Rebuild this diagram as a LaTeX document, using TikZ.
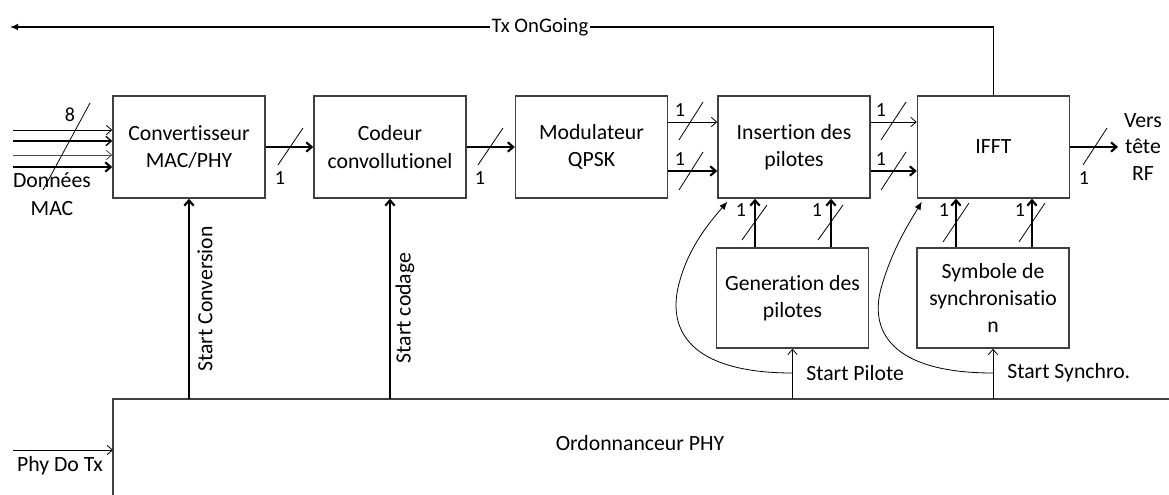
\documentclass[tikz,border=0pt]{standalone}
\usepackage{fontspec}
\setmainfont{Carlito}[Ligatures=NoCommon]
\usetikzlibrary{arrows.meta,calc}
\begin{document}
\begin{tikzpicture}[x=0.75pt,y=-0.75pt,
 box/.style={draw=black!75,line width=1.1pt,minimum width=114pt,minimum height=76.5pt,align=center,font=\fontsize{16.3}{20.5}\selectfont,inner sep=0pt},
 thk/.style={line width=1.6pt,-{Straight Barb[length=4pt,width=7pt]}},
 thn/.style={line width=0.6pt,-{Straight Barb[length=4pt,width=7pt]}},
 lab/.style={font=\fontsize{16.3}{20.5}\selectfont,inner sep=0pt},
 one/.style={font=\fontsize{15}{16}\selectfont,inner sep=0pt},
 sl/.style={line width=0.6pt},
 crv/.style={line width=0.6pt,-{Latex[length=6pt,width=5pt]}}]
\useasboundingbox (0,0) rectangle (1169,495);
% boxes
\node[box] (conv) at (189,147) {Convertisseur\\MAC/PHY};
\node[box] (cod) at (390,147) {Codeur\\convollutionel};
\node[box] (mod) at (591.5,147) {Modulateur\\QPSK};
\node[box] (ins) at (794,147) {Insertion des\\pilotes};
\node[box] (ifft) at (993.5,147) {IFFT};
\node[box,minimum height=75pt] (gen) at (792.5,298) {Generation des\\pilotes};
\node[box,minimum height=75pt] (sym) at (993,298) {Symbole de\\synchronisatio\\n};
% ordonnanceur
\coordinate (ordTL) at (113,399);
\coordinate (ordTR) at (1169,399);
\coordinate (ordBL) at (113,495);
\draw[line width=1.1pt,draw=black!75] (ordTR) -- (ordTL) -- (ordBL);
\node[lab] (ord) at (640,443) {Ordonnanceur PHY};
% Tx OnGoing
\coordinate (txend) at (10,27);
\draw[line width=0.9pt,-{Latex[length=6pt,width=5pt]}] (ifft.north) -- (ifft.north |- txend) -- (txend);
\node[fill=white,inner sep=1pt,font=\fontsize{15.5}{17}\selectfont] (tx) at (540,27) {Tx OnGoing};
% data inputs
\coordinate (d1) at (13,130);
\coordinate (d2) at (13,141);
\coordinate (d3) at (13,155);
\coordinate (d4) at (13,167);
\draw[thn] (d1) -- (d1 -| conv.west);
\draw[thk,line width=1pt] (d2) -- (d2 -| conv.west);
\draw[thn,draw=black!70] (d3) -- (d3 -| conv.west);
\draw[thk] (d4) -- (d4 -| conv.west);
\draw[sl] (90,103) -- (43,190);
\node[one] (n8) at (70,115) {8};
\node[lab,align=center] (don) at (52,194) {Données\\MAC};
% chain
\draw[thk] (conv.east) -- (cod.west);
\draw[sl] (303,128) -- (278,165);
\node[one] (o1) at (280,178) {1};
\draw[thk] (cod.east) -- (mod.west);
\draw[sl] (503,128) -- (478,165);
\node[one] (o2) at (480,178) {1};
\coordinate (m1) at (mod.east |- 0,122);
\coordinate (m2) at (mod.east |- 0,171);
\draw[thn] (m1) -- (m1 -| ins.west);
\draw[thk] (m2) -- (m2 -| ins.west);
\draw[sl] (703,102) -- (679,140);
\draw[sl] (703,152) -- (679,190);
\node[one] (o3) at (680,110) {1};
\node[one] (o4) at (680,159) {1};
\coordinate (i1) at (ins.east |- 0,122);
\coordinate (i2) at (ins.east |- 0,171);
\draw[thn] (i1) -- (i1 -| ifft.west);
\draw[thk] (i2) -- (i2 -| ifft.west);
\draw[sl] (906,102) -- (881,140);
\draw[sl] (906,152) -- (881,190);
\node[one] (o5) at (881,110) {1};
\node[one] (o6) at (881,159) {1};
\coordinate (rf) at (1118,147);
\draw[thk] (ifft.east) -- (rf);
\draw[sl] (1107,128) -- (1083,165);
\node[one] (o7) at (1084,178) {1};
\node[lab,align=center,font=\fontsize{16.3}{20}\selectfont] (vers) at (1143,147) {Vers\\tête\\RF};
% verticals gen -> ins, sym -> ifft
\coordinate (g1) at ($(gen.north)+(-37.5,0)$);
\coordinate (g2) at ($(gen.north)+(38.5,0)$);
\coordinate (s1) at ($(sym.north)+(-37,0)$);
\coordinate (s2) at ($(sym.north)+(39,0)$);
\draw[thk] (g1) -- (g1 |- ins.south);
\draw[thk] (g2) -- (g2 |- ins.south);
\draw[thk] (s1) -- (s1 |- ifft.south);
\draw[thk] (s2) -- (s2 |- ifft.south);
\draw[sl] (742,240) -- (767,205);
\draw[sl] (818,240) -- (843,205);
\draw[sl] (943,242) -- (969,203);
\draw[sl] (1019,242) -- (1045,203);
\node[one] (o8) at (741,210) {1};
\node[one] (o9) at (817,210) {1};
\node[one] (o10) at (944,210) {1};
\node[one] (o11) at (1020,210) {1};
% start signals
\draw[thk] (conv.south |- ordTL) -- (conv.south);
\node[lab,rotate=90] (sc) at (205,299) {Start Conversion};
\draw[thk] (cod.south |- ordTL) -- (cod.south);
\node[lab,rotate=90] (scod) at (405,308) {Start codage};
\draw[thn] (gen.south |- ordTL) -- (gen.south);
\node[lab,anchor=west] (sp) at (806,373) {Start Pilote};
\draw[thn] (sym.south |- ordTL) -- (sym.south);
\node[lab,anchor=west] (ss) at (1007,373) {Start Synchro.};
\coordinate (cp) at (gen.south |- 0,373);
\coordinate (cs) at (sym.south |- 0,373);
\draw[crv] (cp) .. controls (690,373) and (665,330) .. (680,280) .. controls (690,245) and (710,222) .. ($(ins.south west)+(10,3)$);
\draw[crv] (cs) .. controls (890,373) and (868,330) .. (882,285) .. controls (893,248) and (908,225) .. ($(ifft.south west)+(5,3)$);
% Phy Do Tx
\coordinate (phy) at (13,450);
\draw[thn] (phy) -- (phy -| ordTL);
\node[lab] (phyl) at (60,466) {Phy Do Tx};
\end{tikzpicture}
\end{document}
